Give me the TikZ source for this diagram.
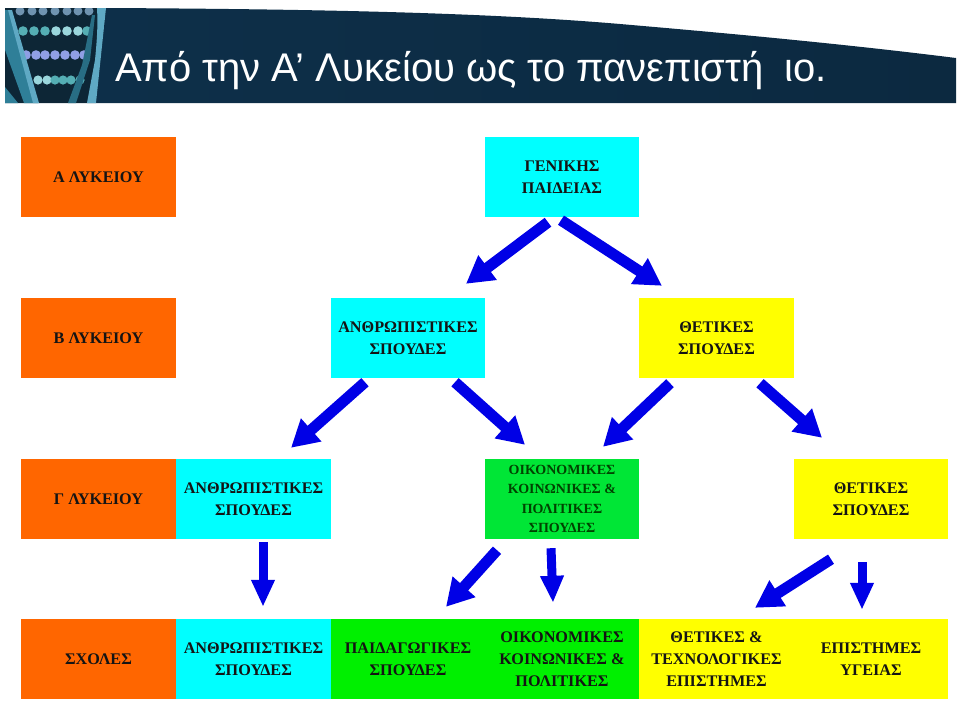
\documentclass[tikz,border=0pt]{standalone}
\usepackage{fontspec}
\setmainfont{Liberation Serif}
\newfontfamily\titlefont{Liberation Sans}
\usetikzlibrary{arrows.meta}
\definecolor{boxorange}{HTML}{FF6600}
\definecolor{boxcyan}{HTML}{00FFFF}
\definecolor{boxgreen}{HTML}{00F000}
\definecolor{boxgreenb}{HTML}{00E636}
\definecolor{boxyellow}{HTML}{FFFF00}
\definecolor{arrowblue}{HTML}{0000E6}
\definecolor{navya}{HTML}{0D304A}
\definecolor{navyb}{HTML}{0A2338}
\definecolor{navyc}{HTML}{0C2940}
\definecolor{dnabg}{HTML}{0D2636}
\definecolor{strand}{HTML}{5FA9C4}
\definecolor{strandb}{HTML}{2F7F98}
\definecolor{dotteal}{HTML}{55AEB4}
\definecolor{dotpale}{HTML}{9AD6DC}
\definecolor{dotviolet}{HTML}{8F9FE4}
\definecolor{dotgrey}{HTML}{6F93B0}
\tikzset{
  x=1pt,y=-1pt,
  box/.style={minimum width=154.6pt,minimum height=80pt,inner sep=0pt,align=center,
    text=black!92,font=\fontsize{16.2}{22}\selectfont\bfseries},
  orangebox/.style={box,fill=boxorange},
  cyanbox/.style={box,fill=boxcyan},
  greenbox/.style={box,fill=boxgreen},
  yellowbox/.style={box,fill=boxyellow},
  arr/.style={draw=arrowblue,line width=11pt,
    -{Triangle[length=27pt,width=29pt,fill=arrowblue]}},
  arrv/.style={draw=arrowblue,line width=9pt,
    -{Triangle[length=27pt,width=22pt,fill=arrowblue]}},
}
\begin{document}
\begin{tikzpicture}
\useasboundingbox (0,0) rectangle (960,716);
% banner
\shade[left color=navya,middle color=navyb,right color=navyc]
  (5,8) -- (105,8) .. controls (300,9) and (480,12) .. (620,24) .. controls (760,36) and (860,46) .. (956,58)
  -- (956,103) -- (5,103) -- cycle;
% DNA picture
\begin{scope}
\clip (5,8) -- (106,8) -- (96,103) -- (5,103) -- cycle;
\fill[dnabg] (5,8) rectangle (106,103);
\foreach \x in {20,32,43,55,67,78,89} \fill[dotgrey] (\x,11) circle (4.5);
\foreach \x/\c in {23/dotteal,34/dotteal,45/dotteal,56/dotpale,67/dotpale,78/dotpale,87/dotteal}
  \fill[\c] (\x,31) circle (4.8);
\foreach \x in {26,36,45,55,65,75,84} \fill[dotviolet] (\x,55) circle (4.8);
\foreach \x/\c in {38/dotpale,47/dotpale,55/dotteal,63/dotteal,71/dotteal,80/dotteal}
  \fill[\c] (\x,80) circle (4.6);
\fill[strandb] (5,10) -- (10,10) -- (38,103) -- (24,103) -- (5,50) -- cycle;
\fill[strand] (8,10) -- (12,10) -- (39,103) -- (33,103) -- cycle;
\fill[strandb] (5,87) -- (18,103) -- (5,103) -- cycle;
\fill[strandb!80!dnabg] (92,15) -- (95,15) -- (90,60) -- (76,103) -- (68,103) -- (82,65) -- cycle;
\fill[strand] (97,8) -- (106,8) -- (104,40) -- (97,103) -- (87,103) -- (95,60) .. controls (97,40) and (98,25) .. (97,8) -- cycle;
\end{scope}
\node[anchor=base west,inner sep=0pt,text=white,font=\titlefont\fontsize{40}{48}\selectfont] (title) at (115,81)
  {Από την Α’ Λυκείου ως το πανεπιστή\hspace{21pt}ιο.};
% row 1
\node[orangebox] (a) at (98.5,177) {Α ΛΥΚΕΙΟΥ};
\node[cyanbox] (gen) at (562,177) {ΓΕΝΙΚΗΣ\\ΠΑΙΔΕΙΑΣ};
% row 2
\node[orangebox] (b) at (98.5,338) {Β ΛΥΚΕΙΟΥ};
\node[cyanbox] (anth) at (408,338) {ΑΝΘΡΩΠΙΣΤΙΚΕΣ\\ΣΠΟΥΔΕΣ};
\node[yellowbox] (thet) at (716.5,338) {ΘΕΤΙΚΕΣ\\ΣΠΟΥΔΕΣ};
% row 3
\node[orangebox] (c) at (98.5,499) {Γ ΛΥΚΕΙΟΥ};
\node[cyanbox] (anthg) at (253.5,499) {ΑΝΘΡΩΠΙΣΤΙΚΕΣ\\ΣΠΟΥΔΕΣ};
\node[box,fill=boxgreenb,text=black!72!boxgreen,font=\fontsize{14}{19.4}\selectfont\bfseries] (oik) at (562,499) {ΟΙΚΟΝΟΜΙΚΕΣ\\ΚΟΙΝΩΝΙΚΕΣ \&\\ΠΟΛΙΤΙΚΕΣ\\ΣΠΟΥΔΕΣ};
\node[yellowbox] (thetg) at (871,499) {ΘΕΤΙΚΕΣ\\ΣΠΟΥΔΕΣ};
% row 4
\node[orangebox] (d) at (98.5,659) {ΣΧΟΛΕΣ};
\node[cyanbox] (anths) at (253.5,659) {ΑΝΘΡΩΠΙΣΤΙΚΕΣ\\ΣΠΟΥΔΕΣ};
\node[greenbox] (paid) at (408,659) {ΠΑΙΔΑΓΩΓΙΚΕΣ\\ΣΠΟΥΔΕΣ};
\node[greenbox] (oiks) at (562,659) {ΟΙΚΟΝΟΜΙΚΕΣ\\ΚΟΙΝΩΝΙΚΕΣ \&\\ΠΟΛΙΤΙΚΕΣ};
\node[yellowbox] (thets) at (716.5,659) {ΘΕΤΙΚΕΣ \&\\ΤΕΧΝΟΛΟΓΙΚΕΣ\\ΕΠΙΣΤΗΜΕΣ};
\node[yellowbox] (epi) at (871,659) {ΕΠΙΣΤΗΜΕΣ\\ΥΓΕΙΑΣ};
% arrows (offsets from the south anchor of the source and the north anchor of the target)
\draw[arr] ([shift={(-14,5)}]gen.south) -- ([shift={(58,-14)}]anth.north);
\draw[arr] ([shift={(-1,3)}]gen.south) -- ([shift={(-54.5,-12)}]thet.north);
\draw[arr] ([shift={(-43,4)}]anth.south) -- ([shift={(37.5,-11)}]anthg.north);
\draw[arr] ([shift={(47,4)}]anth.south) -- ([shift={(-37,-14)}]oik.north);
\draw[arr] ([shift={(-46.5,5)}]thet.south) -- ([shift={(41,-12)}]oik.north);
\draw[arr] ([shift={(43.5,5)}]thet.south) -- ([shift={(-49,-21)}]thetg.north);
\draw[arrv] ([shift={(9.5,3)}]anthg.south) -- ([shift={(9.5,-12)}]anths.north);
\draw[arr] ([shift={(-65,11)}]oik.south) -- ([shift={(38,-12)}]paid.north);
\draw[arrv] ([shift={(-11,9)}]oik.south) -- ([shift={(-9,-16)}]oiks.north);
\draw[arr] ([shift={(-40,20)}]thetg.south) -- ([shift={(38.5,-11)}]thets.north);
\draw[arrv] ([shift={(-9,23)}]thetg.south) -- ([shift={(-9,-9)}]epi.north);
\end{tikzpicture}
\end{document}
